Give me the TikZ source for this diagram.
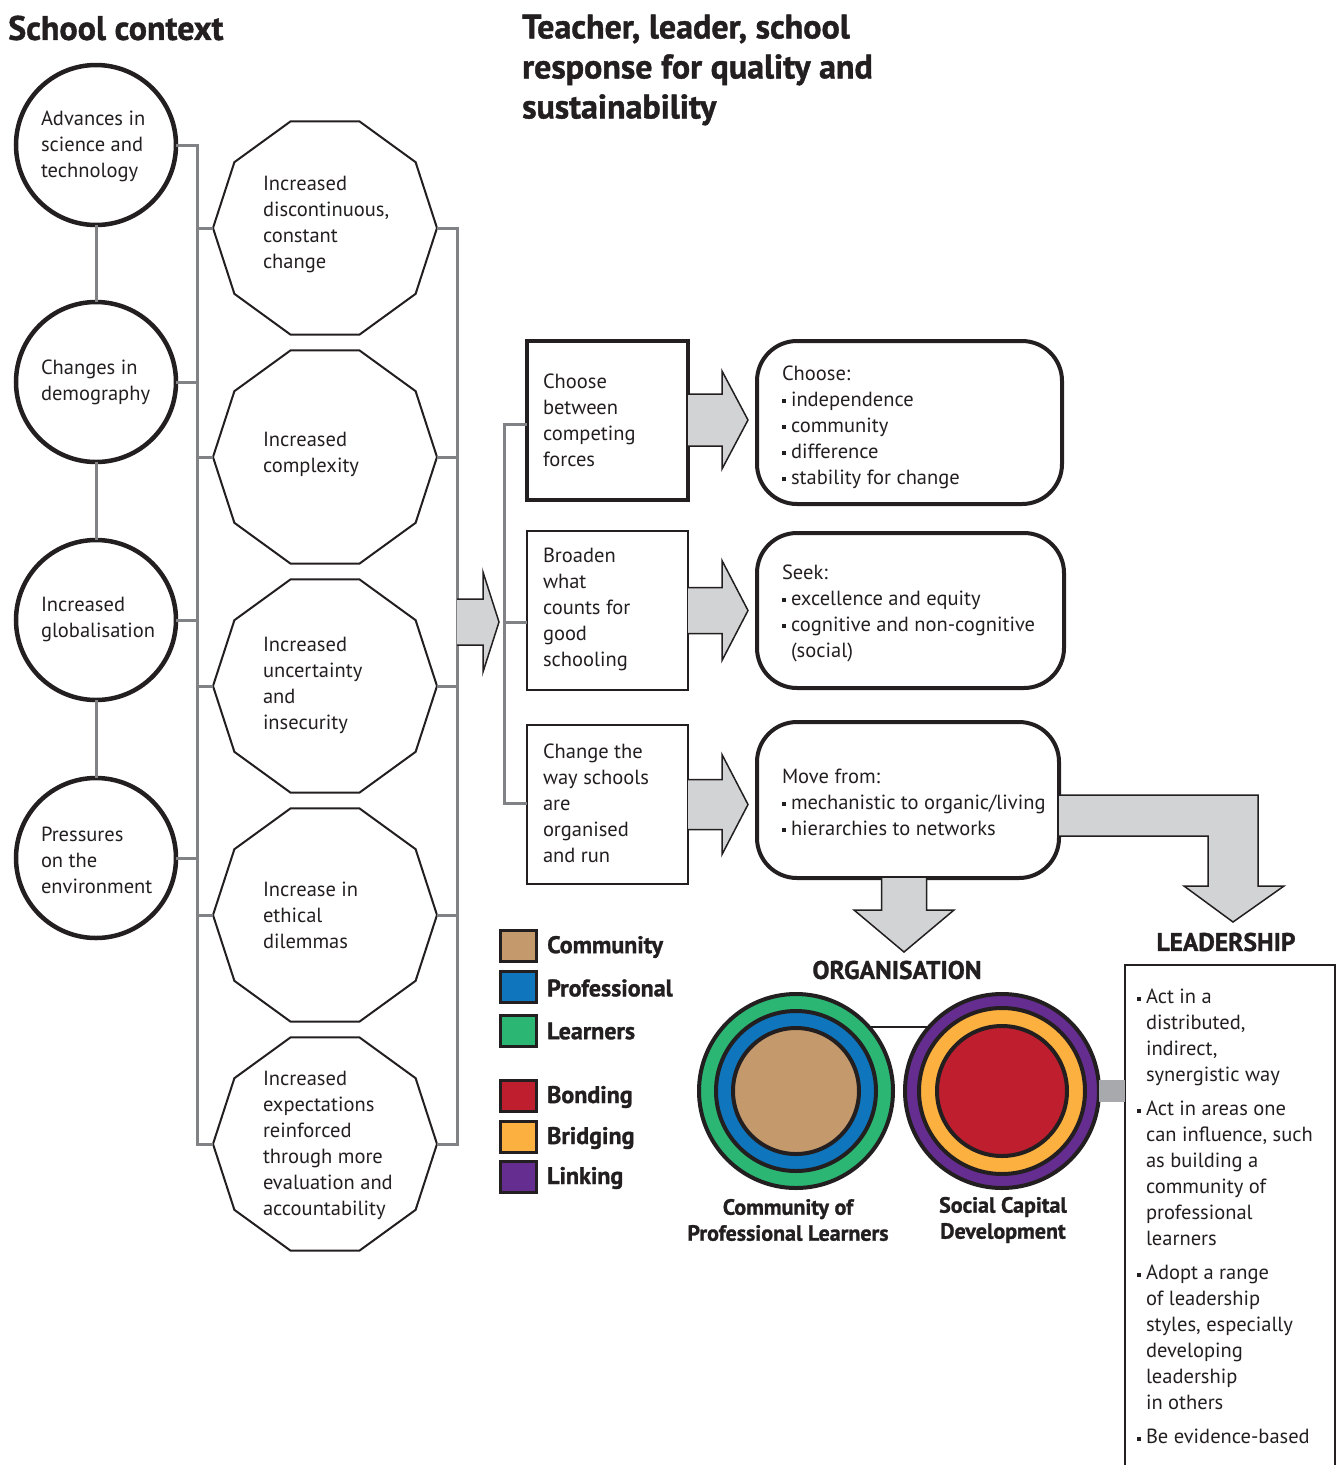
\documentclass[tikz,border=0pt]{standalone}
\usepackage{fontspec}
\setmainfont{PT Sans}
\newfontfamily\hfont{PT Sans}[BoldFeatures={FakeBold=1.2}]
\usetikzlibrary{shapes.geometric,calc}
\definecolor{ink}{HTML}{231F20}
\definecolor{lgray}{HTML}{D1D3D4}
\definecolor{mgray}{HTML}{A7A9AC}
\definecolor{lgline}{HTML}{808285}
\definecolor{ctan}{HTML}{C49A6C}
\definecolor{cblue}{HTML}{0F75BC}
\definecolor{cgreen}{HTML}{2BB673}
\definecolor{cred}{HTML}{BE1E2D}
\definecolor{corange}{HTML}{FBB040}
\definecolor{cpurple}{HTML}{662D91}
\newcommand\bul{\makebox[9pt][l]{\rule[3pt]{4pt}{4pt}}}
\newcommand\ind{\hspace*{9pt}}
\newcommand\rarr[5]{\filldraw[blockarrow] let \p1=(#1), \p2=(#2) in (\x1,\y1+#3) -- (\x2-#5,\y1+#3) -- (\x2-#5,\y1+#4) -- (\x2,\y1) -- (\x2-#5,\y1-#4) -- (\x2-#5,\y1-#3) -- (\x1,\y1-#3);}
\begin{document}
\begin{tikzpicture}[x=1pt,y=-1pt,
  txt/.style={font={\fontsize{20.5}{26}\selectfont}, inner sep=0pt, outer sep=0pt, align=left, text=ink},
  ctx/.style={circle, draw=ink, line width=4.5pt, minimum size=160pt, inner sep=0pt, outer sep=0pt},
  poly/.style={regular polygon, regular polygon sides=10, draw=ink, line width=2pt, minimum size=224pt, inner sep=0pt, outer sep=0pt},
  gl/.style={draw=lgline, line width=3pt},
  sqbox/.style={rectangle, draw=ink, minimum width=161pt, minimum height=159pt, inner sep=0pt, outer sep=0pt},
  rbox/.style={rectangle, rounded corners=40pt, draw=ink, line width=4pt, inner sep=0pt, outer sep=0pt},
  blockarrow/.style={fill=lgray, draw=ink, line width=1.5pt, line join=miter},
  headtxt/.style={font={\hfont\bfseries\fontsize{34}{40}\selectfont}, inner sep=0pt, align=left, text=ink},
  lab/.style={font={\hfont\bfseries\fontsize{24}{26}\selectfont}, inner sep=0pt, text=ink, align=center},
  leg/.style={rectangle, draw=ink, line width=3pt, minimum width=36pt, minimum height=31pt, inner sep=0pt, outer sep=0pt},
  ring/.style={circle, draw=ink, line width=4pt, inner sep=0pt, outer sep=0pt},
]
\useasboundingbox (0,0) rectangle (1340,1465);

% headings
\node[headtxt, anchor=west] (h1) at (8,28) {School context};
\node[headtxt, anchor=west] (h2) at (522,70) {Teacher, leader, school\\response for quality and\\sustainability};

% context circles
\node[ctx] (c1) at (96,145) {};
\node[ctx] (c2) at (96,382) {};
\node[ctx] (c3) at (96,620) {};
\node[ctx] (c4) at (96,858) {};
\node[txt, anchor=west] (tc1) at (41,146) {Advances in\\science and\\technology};
\node[txt, anchor=west] (tc2) at (41,382) {Changes in\\demography};
\node[txt, anchor=west] (tc3) at (41,619) {Increased\\globalisation};
\node[txt, anchor=west] (tc4) at (41,860) {Pressures\\on the\\environment};

% polygons
\node[poly] (p1) at (325,228) {};
\node[poly] (p2) at (325,457) {};
\node[poly] (p3) at (325,686) {};
\node[poly] (p4) at (325,915) {};
\node[poly] (p5) at (325,1144) {};
\node[txt, anchor=west] (tp1) at (263,224) {Increased\\discontinuous,\\constant\\change};
\node[txt, anchor=west] (tp2) at (263,454) {Increased\\complexity};
\node[txt, anchor=west] (tp3) at (263,685) {Increased\\uncertainty\\and\\insecurity};
\node[txt, anchor=west] (tp4) at (263,915) {Increase in\\ethical\\dilemmas};
\node[txt, anchor=west] (tp5) at (263,1145) {Increased\\expectations\\reinforced\\through more\\evaluation and\\accountability};

% grey connectors, left side
\draw[gl] (c1) -- (c2) (c2) -- (c3) (c3) -- (c4);
\draw[gl] (c1.east) -- ++(21,0) coordinate (lbt) |- (p5.west);
\foreach \n in {c2,c3,c4} \draw[gl] (\n.east) -- (\n.east -| lbt);
\foreach \n in {p1,p2,p3,p4} \draw[gl] (\n.west) -- (\n.west -| lbt);
\draw[gl] (p1.east) -- ++(20,0) coordinate (rbt) |- (p5.east);
\foreach \n in {p2,p3,p4} \draw[gl] (\n.east) -- (\n.east -| rbt);

% response boxes
\node[sqbox, line width=4pt] (b1) at (607.5,420) {};
\node[sqbox, line width=2.5pt] (b2) at (607.5,610.5) {};
\node[sqbox, line width=2.5pt] (b3) at (607.5,804.5) {};
\node[txt, anchor=west] (tb1) at (543,420) {Choose\\between\\competing\\forces};
\node[txt, anchor=west] (tb2) at (543,609) {Broaden\\what\\counts for\\good\\schooling};
\node[txt, anchor=west] (tb3) at (543,803) {Change the\\way schools\\are\\organised\\and run};

\coordinate (mtop) at (504,424);
\coordinate (mbot) at (504,803);
\coordinate (mmid) at (504,622);
\draw[gl] (mtop -| b1.west) -- (mtop) -- (mbot) -- (mbot -| b3.west);
\draw[gl] (mmid) -- (mmid -| b2.west);

% big arrow into the responses
\rarr{rbt |- mmid}{[xshift=-5pt]mmid}{23pt}{50pt}{16pt}

% rounded boxes
\node[rbox, minimum width=305pt, minimum height=163pt] (r1) at (909.5,422.5) {};
\node[rbox, minimum width=307pt, minimum height=155pt] (r2) at (910.5,610.5) {};
\node[rbox, minimum width=302pt, minimum height=156pt] (r3) at (908,800) {};
\node[txt, anchor=west] (tr1) at (782,427) {Choose:\\\bul independence\\\bul community\\\bul difference\\\bul stability for change};
\node[txt, anchor=west] (tr2) at (782,613) {Seek:\\\bul excellence and equity\\\bul cognitive and non-cognitive\\\ind(social)};
\node[txt, anchor=west] (tr3) at (782,802) {Move from:\\\bul mechanistic to organic/living\\\bul hierarchies to networks};

\rarr{b1.east}{[xshift=-9pt]r1.west}{26pt}{49pt}{26pt}
\rarr{b2.east}{[xshift=-9pt]r2.west}{23pt}{50pt}{26pt}
\rarr{b3.east}{[xshift=-9pt]r3.west}{25pt}{50pt}{26pt}

% down arrow to organisation
\filldraw[blockarrow] let \p1=([xshift=-4pt]r3.south) in
  (\x1-22.5pt,\y1) -- (\x1-22.5pt,\y1-32pt) -- (\x1-50pt,\y1-32pt) -- (\x1,\y1-74pt)
  -- (\x1+50pt,\y1-32pt) -- (\x1+22.5pt,\y1-32pt) -- (\x1+22.5pt,\y1);
% L arrow to leadership
\filldraw[blockarrow] let \p1=(r3.east) in
  (\x1,\y1+5pt) -- (\x1+199pt,\y1+5pt) -- (\x1+199pt,\y1-86pt) -- (\x1+225pt,\y1-86pt)
  -- (\x1+174pt,\y1-122pt) -- (\x1+125pt,\y1-86pt) -- (\x1+149pt,\y1-86pt)
  -- (\x1+149pt,\y1-36pt) -- (\x1,\y1-36pt);

\node[lab, font={\hfont\bfseries\fontsize{25.5}{26}\selectfont}] (org) at (897,970) {ORGANISATION};
\node[lab, font={\hfont\bfseries\fontsize{25.5}{26}\selectfont}] (ldr) at (1226,942) {LEADERSHIP};

% legend
\node[leg, fill=ctan] (l1) at (518.5,946) {};
\node[leg, fill=cblue] (l2) at (518.5,987) {};
\node[leg, fill=cgreen] (l3) at (518.5,1030.5) {};
\node[leg, fill=cred] (l4) at (518.5,1096) {};
\node[leg, fill=corange] (l5) at (518.5,1137) {};
\node[leg, fill=cpurple] (l6) at (518.5,1177) {};
\node[lab, anchor=west] (lt1) at (547,947) {Community};
\node[lab, anchor=west] (lt2) at (547,988) {Professional};
\node[lab, anchor=west] (lt3) at (547,1031) {Learners};
\node[lab, anchor=west] (lt4) at (547,1097) {Bonding};
\node[lab, anchor=west] (lt5) at (547,1138) {Bridging};
\node[lab, anchor=west] (lt6) at (547,1178) {Linking};

% leadership box
\node[draw=ink, line width=2.5pt, rectangle, minimum width=210pt, minimum height=530pt, inner sep=0pt, outer sep=0pt, anchor=north west] (lead) at (1125,965) {};
\node[txt, anchor=north west] (tl) at (1137,989) {\bul Act in a\\\ind distributed,\\\ind indirect,\\\ind synergistic way\\[8pt]\bul Act in areas one\\\ind can influence, such\\\ind as building a\\\ind community of\\\ind professional\\\ind learners\\[8pt]\bul Adopt a range\\\ind of leadership\\\ind styles, especially\\\ind developing\\\ind leadership\\\ind in others\\[8pt]\bul Be evidence-based};

% organisation circles
\node[ring, fill=cgreen, minimum size=194pt] (o1) at (796,1091) {};
\node[ring, fill=cblue, minimum size=160pt] (o1b) at (796,1091) {};
\node[ring, fill=ctan, minimum size=126pt] (o1c) at (796,1091) {};
\node[ring, fill=cpurple, minimum size=194pt] (o2) at (1002,1091) {};
\node[ring, fill=corange, minimum size=166pt] (o2b) at (1002,1091) {};
\node[ring, fill=cred, minimum size=130pt] (o2c) at (1002,1091) {};
\draw[ink, line width=2pt] (o1.41) -- (o2.139);
\draw[mgray, line width=22pt] (o2.east) -- (o2.east -| lead.west);
\node[lab, font={\hfont\bfseries\fontsize{22}{26}\selectfont}] (ol1) at (788,1220) {Community of\\Professional Learners};
\node[lab, font={\hfont\bfseries\fontsize{22}{26}\selectfont}] (ol2) at (1003,1220) {Social Capital\\Development};
\end{tikzpicture}
\end{document}
